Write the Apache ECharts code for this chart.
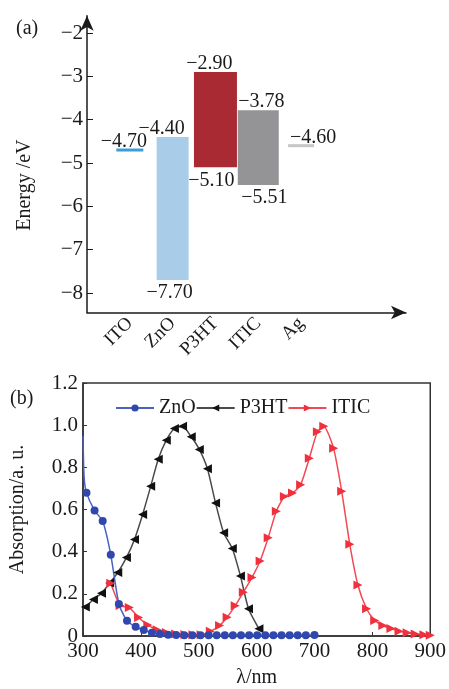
<!DOCTYPE html>
<html>
<head>
<meta charset="utf-8">
<script src="https://cdn.jsdelivr.net/npm/echarts@6/dist/echarts.min.js"></script>
<style>
html, body { margin: 0; padding: 0; background: #fff; }
#main { width: 449px; height: 689px; }
</style>
</head>
<body>
<div id="main"></div>
<script>
// (a) energy levels
var layers = ['ITO', 'ZnO', 'P3HT', 'ITIC', 'Ag'];
var levelTop = [-4.70, -4.40, -2.90, -3.78, -4.60];
var levelBottom = [-4.70, -7.70, -5.10, -5.51, -4.60];
var energyTicks = [-8, -7, -6, -5, -4, -3, -2];

// (b) absorption spectra, [wavelength nm, absorption]
var znoAbs = [[300, 0.95], [302, 0.75], [306, 0.68], [320, 0.595], [334, 0.545], [348, 0.385],
    [362, 0.152], [376, 0.072], [391, 0.044], [405, 0.028], [419, 0.016], [433, 0.009],
    [447, 0.006], [461, 0.005], [475, 0.004], [489, 0.004], [503, 0.004], [517, 0.004],
    [531, 0.004], [545, 0.004], [559, 0.004], [573, 0.004], [587, 0.004], [601, 0.004],
    [615, 0.004], [629, 0.004], [643, 0.004], [657, 0.004], [671, 0.004], [685, 0.004],
    [700, 0.005]];
var p3htAbs = [[300, 0.13], [304, 0.137], [318, 0.173], [332, 0.203], [346, 0.251], [360, 0.301],
    [375, 0.372], [389, 0.458], [403, 0.576], [417, 0.71], [430, 0.838], [444, 0.929],
    [458, 0.984], [472, 0.995], [487, 0.945], [501, 0.885], [515, 0.793], [529, 0.631],
    [543, 0.49], [558, 0.415], [572, 0.285], [586, 0.129], [604, 0.034]];
var iticAbs = [[348, 0.25], [364, 0.145], [380, 0.135], [396, 0.088], [412, 0.052], [428, 0.03],
    [444, 0.017], [460, 0.01], [476, 0.007], [490, 0.006], [504, 0.006], [520, 0.022],
    [536, 0.05], [549, 0.089], [563, 0.144], [577, 0.207], [592, 0.278], [606, 0.356],
    [620, 0.466], [634, 0.592], [648, 0.662], [662, 0.678], [676, 0.717], [691, 0.843],
    [705, 0.969], [716, 0.995], [733, 0.89], [747, 0.686], [761, 0.435], [775, 0.242],
    [790, 0.129], [804, 0.074], [818, 0.05], [832, 0.035], [846, 0.022], [860, 0.016],
    [874, 0.009], [889, 0.006], [900, 0.003]];

;(function() {
    var serif = '"Liberation Serif", "DejaVu Serif", serif';
    var ink = '#1a1a1a';

    // box look per layer
    var boxStyle = {
        ITO:  { w: 27, fill: '#3d9bd8', dxTop: -6 },
        ZnO:  { w: 32, fill: '#a9cde8', dxTop: -11, dxBot: -3 },
        P3HT: { w: 43, fill: '#aa2a33', dxTop: -6, dxBot: -4 },
        ITIC: { w: 41, fill: '#949497', dxTop: 3, dxBot: 6 },
        Ag:   { w: 26, fill: '#c6c6c6', dxTop: 12 }
    };

    function minus(v) {
        return (v < 0 ? '\u2212' : '') + Math.abs(v);
    }

    function fmtLevel(v) {
        return '\u2212' + Math.abs(v).toFixed(2);
    }

    function renderLevel(params, api) {
        var name = layers[params.dataIndex];
        var s = boxStyle[name];
        var x = api.value(0);
        var top = api.coord([x, api.value(1)]);
        var bot = api.coord([x, api.value(2)]);
        var isLine = api.value(1) === api.value(2);
        var children = [{
            type: 'rect',
            shape: {
                x: top[0] - s.w / 2,
                y: isLine ? top[1] - 1.5 : top[1],
                width: s.w,
                height: isLine ? 3 : bot[1] - top[1]
            },
            style: { fill: s.fill }
        }, {
            type: 'text',
            style: {
                text: fmtLevel(api.value(1)),
                x: top[0] + s.dxTop,
                y: top[1] + 2,
                align: 'center',
                verticalAlign: 'bottom',
                font: '20px ' + serif,
                fill: ink
            }
        }];
        if (!isLine) {
            children.push({
                type: 'text',
                style: {
                    text: fmtLevel(api.value(2)),
                    x: bot[0] + s.dxBot,
                    y: bot[1] + 3,
                    align: 'center',
                    verticalAlign: 'top',
                    font: '20px ' + serif,
                    fill: ink
                }
            });
        }
        return { type: 'group', children: children };
    }

    function marked(arr, skip) {
        return arr.map(function(p, i) {
            return i < skip ? { value: p, symbol: 'none' } : p;
        });
    }

    var chart = echarts.init(document.getElementById('main'), null, { renderer: 'canvas' });
    var option = {
        animation: false,
        backgroundColor: '#fff',
        textStyle: { fontFamily: serif, color: ink },
        title: [{
            text: '(a)', left: 11, top: 14,
            textStyle: { fontFamily: serif, fontSize: 20, fontWeight: 'normal', color: ink }
        }, {
            text: '(b)', left: 5, top: 384,
            textStyle: { fontFamily: serif, fontSize: 20, fontWeight: 'normal', color: ink }
        }],
        legend: {
            data: ['ZnO', 'P3HT', 'ITIC'],
            left: 110,
            top: 393,
            itemWidth: 38,
            itemHeight: 9,
            itemGap: 0,
            textStyle: { fontFamily: serif, fontSize: 20, color: ink }
        },
        grid: [{
            left: 87, right: 43, top: 15.7, bottom: 376.5
        }, {
            left: 80, right: 16, top: 383, bottom: 52,
            show: true, borderColor: '#333', borderWidth: 1.5
        }],
        xAxis: [{
            gridIndex: 0,
            type: 'value',
            min: 0,
            max: 7.45,
            splitLine: { show: false },
            axisLine: {
                lineStyle: { color: ink, width: 1.5 },
                symbol: ['none', 'arrow'],
                symbolSize: [10, 15]
            },
            axisTick: { show: false },
            axisLabel: {
                customValues: layers.map(function(n, i) { return i + 1; }),
                formatter: function(v) { return layers[v - 1] || ''; },
                rotate: 45,
                margin: 8,
                fontFamily: serif,
                fontSize: 19,
                color: ink
            }
        }, {
            gridIndex: 1,
            type: 'value',
            min: 300,
            max: 900,
            interval: 100,
            name: '\u03bb/nm',
            nameLocation: 'middle',
            nameGap: 32,
            nameTextStyle: { fontFamily: serif, fontSize: 20, color: ink },
            splitLine: { show: false },
            axisLine: { lineStyle: { color: '#333', width: 1.5 } },
            axisTick: { inside: true, length: 4, lineStyle: { color: '#333' } },
            axisLabel: { fontFamily: serif, fontSize: 21, color: ink, margin: 5 }
        }],
        yAxis: [{
            gridIndex: 0,
            type: 'value',
            min: -8.45,
            max: -1.6,
            name: 'Energy /eV',
            nameLocation: 'middle',
            nameGap: 52,
            nameTextStyle: { fontFamily: serif, fontSize: 20, color: ink, padding: [0, 42, 0, 0] },
            splitLine: { show: false },
            axisLine: {
                lineStyle: { color: ink, width: 1.5 },
                symbol: ['none', 'arrow'],
                symbolSize: [10, 15]
            },
            axisTick: { inside: true, length: 6, customValues: energyTicks, lineStyle: { color: ink } },
            axisLabel: {
                customValues: energyTicks,
                formatter: minus,
                fontFamily: serif,
                fontSize: 21,
                color: ink,
                margin: 4
            }
        }, {
            gridIndex: 1,
            type: 'value',
            min: 0,
            max: 1.2,
            interval: 0.2,
            name: 'Absorption/a. u.',
            nameLocation: 'middle',
            nameGap: 55,
            nameTextStyle: { fontFamily: serif, fontSize: 20, color: ink },
            splitLine: { show: false },
            axisLine: { lineStyle: { color: '#333', width: 1.5 } },
            axisTick: { inside: true, length: 4, lineStyle: { color: '#333' } },
            axisLabel: {
                formatter: function(v) { return v === 0 ? '0' : v.toFixed(1); },
                fontFamily: serif,
                fontSize: 21,
                color: ink,
                margin: 5
            }
        }],
        series: [{
            name: 'levels',
            type: 'custom',
            xAxisIndex: 0,
            yAxisIndex: 0,
            renderItem: renderLevel,
            data: layers.map(function(n, i) { return [i + 1, levelTop[i], levelBottom[i]]; })
        }, {
            name: 'P3HT',
            type: 'line',
            xAxisIndex: 1,
            yAxisIndex: 1,
            smooth: 0.2,
            symbol: 'triangle',
            symbolRotate: 90,
            symbolSize: 9,
            itemStyle: { color: '#111' },
            lineStyle: { color: '#4a4a4a', width: 1.5 },
            data: marked(p3htAbs, 1)
        }, {
            name: 'ITIC',
            type: 'line',
            xAxisIndex: 1,
            yAxisIndex: 1,
            smooth: 0.2,
            symbol: 'triangle',
            symbolRotate: -90,
            symbolSize: 9,
            itemStyle: { color: '#f0303c' },
            lineStyle: { color: '#f24a55', width: 1.5 },
            data: marked(iticAbs, 0)
        }, {
            name: 'ZnO',
            type: 'line',
            xAxisIndex: 1,
            yAxisIndex: 1,
            smooth: 0.2,
            symbol: 'circle',
            symbolSize: 8,
            itemStyle: { color: '#3048ae' },
            lineStyle: { color: '#4a60c4', width: 1.5 },
            data: marked(znoAbs, 2)
        }]
    };
    chart.setOption(option);
})();
</script>
</body>
</html>
